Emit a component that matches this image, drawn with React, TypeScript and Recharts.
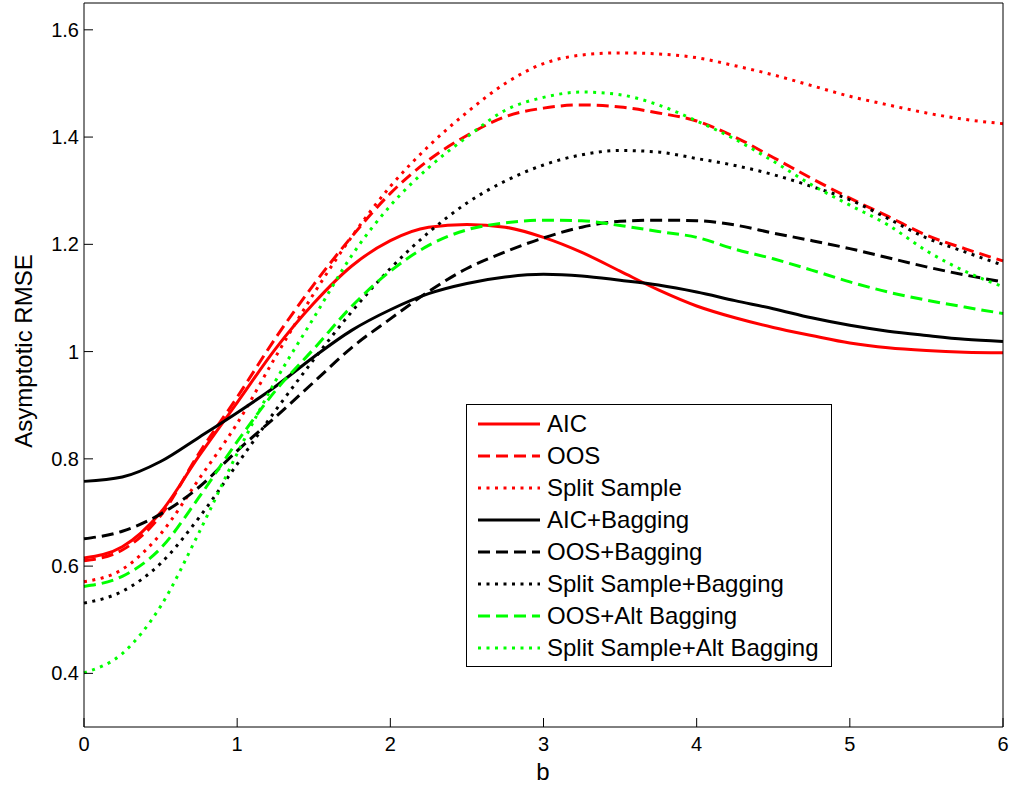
import { LineChart, Line, XAxis, YAxis, Legend } from "recharts"

// b grid
const bValues = [
  0, 0.25, 0.5, 0.75, 1, 1.25, 1.5, 1.75, 2, 2.25, 2.5, 2.75, 3, 3.25, 3.5, 3.75,
  4, 4.25, 4.5, 4.75, 5, 5.25, 5.5, 5.75, 6,
]

// asymptotic RMSE per method
const aic = [
  0.615, 0.636, 0.7, 0.805, 0.905, 1.005, 1.09, 1.16, 1.207, 1.232, 1.237, 1.232,
  1.213, 1.185, 1.15, 1.115, 1.085, 1.063, 1.045, 1.03, 1.016, 1.007, 1.002, 0.999, 0.998,
]
const oos = [
  0.61, 0.63, 0.694, 0.81, 0.915, 1.025, 1.125, 1.215, 1.295, 1.357, 1.403, 1.438,
  1.454, 1.46, 1.456, 1.445, 1.43, 1.4, 1.362, 1.323, 1.286, 1.252, 1.217, 1.192, 1.169,
]
const splitSample = [
  0.571, 0.594, 0.66, 0.762, 0.866, 0.99, 1.108, 1.215, 1.308, 1.383, 1.446, 1.5,
  1.537, 1.553, 1.557, 1.555, 1.548, 1.533, 1.516, 1.496, 1.476, 1.46, 1.445, 1.433, 1.425,
]
const aicBagging = [
  0.758, 0.766, 0.795, 0.84, 0.886, 0.935, 0.99, 1.04, 1.078, 1.108, 1.127, 1.139,
  1.144, 1.141, 1.133, 1.124, 1.111, 1.095, 1.08, 1.063, 1.049, 1.038, 1.03, 1.023, 1.019,
]
const oosBagging = [
  0.651, 0.665, 0.697, 0.747, 0.815, 0.878, 0.943, 1.008, 1.061, 1.112, 1.155, 1.186,
  1.212, 1.232, 1.243, 1.245, 1.244, 1.236, 1.221, 1.207, 1.192, 1.175, 1.158, 1.143, 1.13,
]
const splitBagging = [
  0.531, 0.553, 0.605, 0.69, 0.79, 0.89, 0.985, 1.075, 1.155, 1.222, 1.277, 1.318,
  1.348, 1.367, 1.375, 1.372, 1.36, 1.347, 1.33, 1.308, 1.283, 1.248, 1.212, 1.186, 1.161,
]
const oosAltBagging = [
  0.562, 0.581, 0.633, 0.728, 0.832, 0.927, 1.005, 1.085, 1.15, 1.198, 1.227, 1.24,
  1.245, 1.244, 1.235, 1.224, 1.213, 1.191, 1.173, 1.152, 1.13, 1.111, 1.096, 1.083, 1.071,
]
const splitAltBagging = [
  0.401, 0.437, 0.525, 0.662, 0.81, 0.945, 1.063, 1.18, 1.272, 1.343, 1.4, 1.45,
  1.474, 1.484, 1.479, 1.46, 1.43, 1.396, 1.355, 1.311, 1.273, 1.236, 1.188, 1.15, 1.121,
]

const xTicks = [0, 1, 2, 3, 4, 5, 6]
const yTicks = [0.4, 0.6, 0.8, 1, 1.2, 1.4, 1.6]

const RED = "#FF0000"
const GREEN = "#00FF00"
const BLACK = "#000000"
const DASHED = "12 6"
const DOTTED = "3 5.5"

const series = [
  { key: "aic", name: "AIC", color: RED, dash: undefined, values: aic },
  { key: "oos", name: "OOS", color: RED, dash: DASHED, values: oos },
  { key: "split", name: "Split Sample", color: RED, dash: DOTTED, values: splitSample },
  { key: "aicBag", name: "AIC+Bagging", color: BLACK, dash: undefined, values: aicBagging },
  { key: "oosBag", name: "OOS+Bagging", color: BLACK, dash: DASHED, values: oosBagging },
  { key: "splitBag", name: "Split Sample+Bagging", color: BLACK, dash: DOTTED, values: splitBagging },
  { key: "oosAlt", name: "OOS+Alt Bagging", color: GREEN, dash: DASHED, values: oosAltBagging },
  { key: "splitAlt", name: "Split Sample+Alt Bagging", color: GREEN, dash: DOTTED, values: splitAltBagging },
]

const data = bValues.map((b, i) => {
  const row: Record<string, number> = { b }
  series.forEach((s) => {
    row[s.key] = s.values[i]
  })
  return row
})

const FONT = '"Liberation Sans", Arial, Helvetica, sans-serif'

function MatlabLegend() {
  return (
    <div
      style={{
        border: "1px solid #000",
        background: "#fff",
        boxSizing: "border-box",
        width: 366,
        padding: "3px 0 2px 0",
        fontFamily: FONT,
      }}
    >
      {series.map((s) => (
        <div key={s.key} style={{ display: "flex", alignItems: "center", height: 32 }}>
          <svg width={80} height={32} style={{ flex: "none" }}>
            <line
              x1={11}
              x2={73}
              y1={16}
              y2={16}
              stroke={s.color}
              strokeWidth={3}
              strokeDasharray={s.dash}
            />
          </svg>
          <span style={{ fontSize: 24, color: "#000", whiteSpace: "nowrap" }}>{s.name}</span>
        </div>
      ))}
    </div>
  )
}

function YTitle() {
  return (
    <text
      x={23}
      y={351}
      transform="rotate(-90 23 351)"
      textAnchor="middle"
      dominantBaseline="central"
      fontSize={24}
      fill="#000"
    >
      Asymptotic RMSE
    </text>
  )
}

function XTitle() {
  return (
    <text x={543} y={771} textAnchor="middle" dominantBaseline="central" fontSize={24} fill="#000">
      b
    </text>
  )
}

export default function App() {
  return (
    <div style={{ width: 1012, height: 791, background: "#fff", fontFamily: FONT }}>
      <style>{"body{margin:0;background:#fff}"}</style>
      <LineChart
        width={1012}
        height={791}
        data={data}
        margin={{ top: 2, right: 8, bottom: 34, left: 24 }}
        style={{ fontFamily: FONT }}
      >
        <XAxis
          xAxisId="bottom"
          dataKey="b"
          type="number"
          domain={[0, 6]}
          ticks={xTicks}
          height={30}
          stroke="#000"
          tickSize={-9}
          tickMargin={19}
          tick={{ fill: "#000", fontSize: 20 }}
          label={<XTitle />}
        />
        <XAxis
          xAxisId="top"
          dataKey="b"
          type="number"
          orientation="top"
          domain={[0, 6]}
          ticks={xTicks}
          height={1}
          stroke="#000"
          tickSize={-9}
          tick={false}
        />
        <YAxis
          yAxisId="left"
          type="number"
          domain={[0.3, 1.65]}
          ticks={yTicks}
          width={60}
          stroke="#000"
          tickSize={-9}
          tickMargin={14}
          tick={{ fill: "#000", fontSize: 20 }}
          allowDataOverflow
          label={<YTitle />}
        />
        <YAxis
          yAxisId="right"
          type="number"
          orientation="right"
          domain={[0.3, 1.65]}
          ticks={yTicks}
          width={1}
          stroke="#000"
          tickSize={-9}
          tick={false}
          allowDataOverflow
        />
        {series.map((s) => (
          <Line
            key={s.key}
            xAxisId="bottom"
            yAxisId="left"
            type="monotone"
            dataKey={s.key}
            name={s.name}
            stroke={s.color}
            strokeWidth={3}
            strokeDasharray={s.dash}
            dot={false}
            activeDot={false}
            isAnimationActive={false}
          />
        ))}
        <Legend
          layout="vertical"
          align="center"
          verticalAlign="middle"
          content={<MatlabLegend />}
          wrapperStyle={{ left: 466, top: 404, width: 366 }}
        />
      </LineChart>
    </div>
  )
}
